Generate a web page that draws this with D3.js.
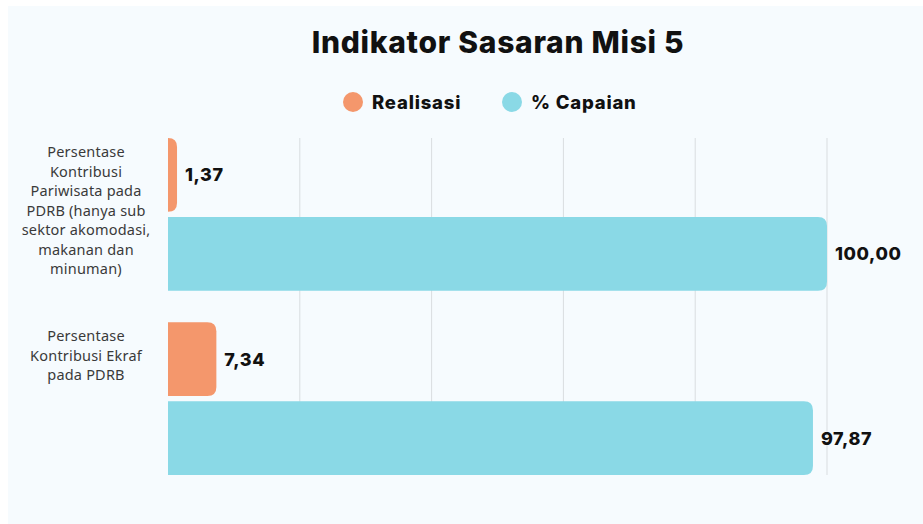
<!DOCTYPE html>
<html>
<head>
<meta charset="utf-8">
<script src="https://cdn.jsdelivr.net/npm/d3@7"></script>
<style>
  html, body { margin: 0; padding: 0; background: #ffffff; }
  svg { display: block; }
</style>
</head>
<body>
<svg class="chart"></svg>
<script>
// DATA
const categories = [
  ['Persentase', 'Kontribusi', 'Pariwisata pada', 'PDRB (hanya sub', 'sektor akomodasi,', 'makanan dan', 'minuman)'],
  ['Persentase', 'Kontribusi Ekraf', 'pada PDRB']
];
const seriesNames = ['Realisasi', '% Capaian'];
const realisasi = [1.37, 7.34];
const capaian = [100.00, 97.87];
const gridTicks = [20, 40, 60, 80, 100];

const colors = {'Realisasi': '#F4976C', '% Capaian': '#8AD9E6'};

// CANVAS
const size = {w: 923, h: 524};
const margin = {top: 138, left: 168, bottom: 49, right: 96};
const svg = d3.select('svg.chart')
  .attr('width', size.w)
  .attr('height', size.h);

svg.append('rect')
  .attr('x', 8).attr('y', 6)
  .attr('width', size.w - 8).attr('height', size.h - 6)
  .attr('fill', '#F6FBFE');

const boldFont = 'Inter, "DejaVu Sans", sans-serif';
const fmt = d3.formatLocale({decimal: ',', thousands: '.', grouping: [3], currency: ['', '']}).format('.2f');

// TITLE + LEGEND
svg.append('text')
  .attr('x', 498).attr('y', 53)
  .attr('text-anchor', 'middle')
  .attr('font-family', boldFont)
  .attr('font-weight', 800)
  .attr('font-size', 30)
  .attr('letter-spacing', 0.7)
  .attr('fill', '#111')
  .text('Indikator Sasaran Misi 5');

const legendX = [353, 512];
const legend = svg.selectAll('g.legend')
  .data(seriesNames)
  .enter().append('g')
  .attr('class', 'legend')
  .attr('transform', (d, i) => `translate(${legendX[i]}, 102)`);
legend.append('circle').attr('r', 10).attr('fill', d => colors[d]);
legend.append('text')
  .attr('x', 19).attr('y', 6.5)
  .attr('font-family', boldFont)
  .attr('font-weight', 800)
  .attr('font-size', 18.5)
  .attr('letter-spacing', 0.8)
  .attr('fill', '#111')
  .text(d => d);

// SCALES
const x = d3.scaleLinear()
  .domain([0, 100])
  .range([margin.left, size.w - margin.right]);

const y0 = d3.scaleBand()
  .domain(d3.range(categories.length))
  .range([margin.top, size.h - margin.bottom])
  .paddingInner(0.17);

const y1 = d3.scaleBand()
  .domain(seriesNames)
  .range([0, y0.bandwidth()])
  .paddingInner(0.065);

// GRID
svg.selectAll('line.grid')
  .data(gridTicks)
  .enter().append('line')
  .attr('class', 'grid')
  .attr('x1', d => x(d)).attr('x2', d => x(d))
  .attr('y1', margin.top).attr('y2', size.h - margin.bottom)
  .attr('stroke', '#d9dde0')
  .attr('stroke-width', 1);

// BARS
const rows = [];
categories.forEach((c, i) => {
  rows.push({cat: i, series: 'Realisasi', value: realisasi[i]});
  rows.push({cat: i, series: '% Capaian', value: capaian[i]});
});

function barPath(d) {
  const x0 = x(0), x1 = x(d.value);
  const top = y0(d.cat) + y1(d.series), h = y1.bandwidth();
  const r = Math.min(9, x1 - x0, h / 2);
  return `M${x0},${top}H${x1 - r}Q${x1},${top} ${x1},${top + r}` +
    `V${top + h - r}Q${x1},${top + h} ${x1 - r},${top + h}H${x0}Z`;
}

svg.selectAll('path.bar')
  .data(rows)
  .enter().append('path')
  .attr('class', 'bar')
  .attr('d', barPath)
  .attr('fill', d => colors[d.series]);

svg.selectAll('text.value')
  .data(rows)
  .enter().append('text')
  .attr('class', 'value')
  .attr('x', d => x(d.value) + 8)
  .attr('y', d => y0(d.cat) + y1(d.series) + y1.bandwidth() / 2 + 6.5)
  .attr('font-family', boldFont)
  .attr('font-weight', 800)
  .attr('font-size', 18)
  .attr('letter-spacing', 0.6)
  .attr('fill', '#111')
  .text(d => fmt(d.value));

// CATEGORY LABELS
const lineH = 19.5;
const labels = svg.selectAll('text.cat')
  .data(categories)
  .enter().append('text')
  .attr('class', 'cat')
  .attr('text-anchor', 'middle')
  .attr('font-family', '"Noto Sans", sans-serif')
  .attr('font-size', 14.5)
  .attr('letter-spacing', 0.2)
  .attr('fill', '#3a3a3a')
  .attr('transform', (d, i) => {
    const h = d.length * lineH;
    const mid = y0(i) + y0.bandwidth() / 2;
    const top = Math.min(mid - h / 2, y0(i) + 5);
    return `translate(86, ${top + 14})`;
  });
labels.selectAll('tspan')
  .data(d => d)
  .enter().append('tspan')
  .attr('x', 0)
  .attr('dy', (d, i) => i ? lineH : 0)
  .text(d => d);
</script>
</body>
</html>
